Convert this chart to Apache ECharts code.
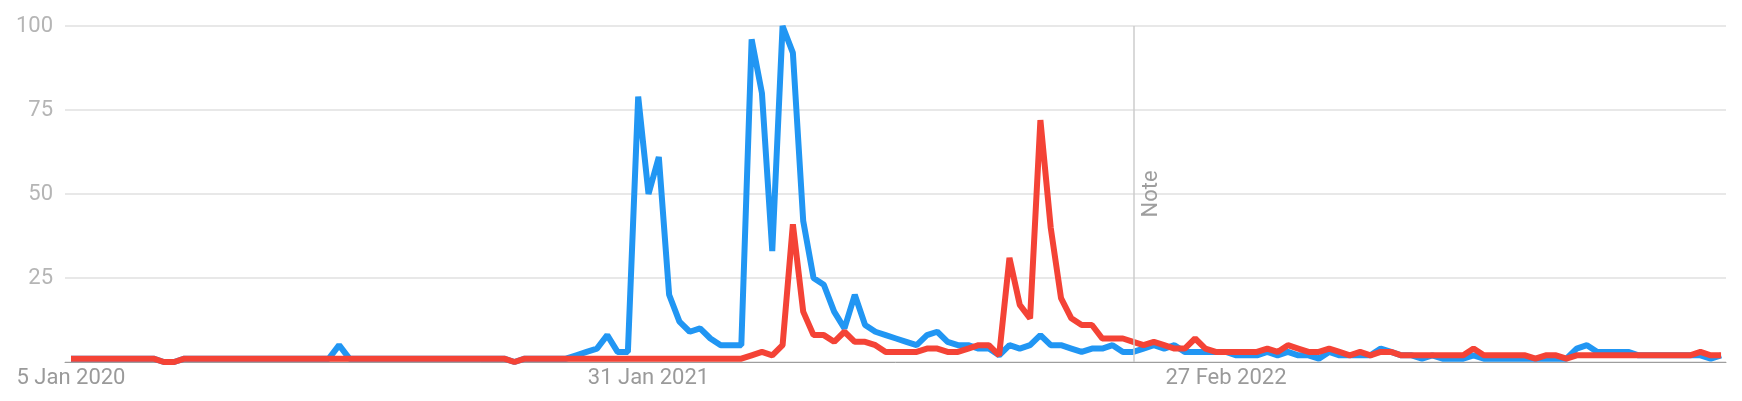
<!DOCTYPE html>
<html>
<head>
<meta charset="utf-8">
<script src="https://cdn.jsdelivr.net/npm/echarts@6/dist/echarts.min.js"></script>
<style>
html,body{margin:0;padding:0;background:#fff;}
#chart{width:1742px;height:401px;}
</style>
</head>
<body>
<div id="chart"></div>
<script>
// Weekly series, week 0 = 5 Jan 2020
const startDate = '2020-01-05';
const tickWeeks = [0, 56, 112];
const tickLabels = ['5 Jan 2020', '31 Jan 2021', '27 Feb 2022'];
const yTicks = [0, 25, 50, 75, 100];
const noteWeek = 103.1;
const noteText = 'Note';

const blueValues = [
  1,1,1,1,1,1,1,1,1,0,
  0,1,1,1,1,1,1,1,1,1,
  1,1,1,1,1,1,5,1,1,1,
  1,1,1,1,1,1,1,1,1,1,
  1,1,1,0,1,1,1,1,1,2,
  3,4,8,3,3,79,50,61,20,12,
  9,10,7,5,5,5,96,80,33,100,
  92,42,25,23,15,10,20,11,9,8,
  7,6,5,8,9,6,5,5,4,4,
  2,5,4,5,8,5,5,4,3,4,
  4,5,3,3,4,5,4,5,3,3,
  3,3,3,2,2,2,3,2,3,2,
  2,1,3,2,2,2,2,4,3,2,
  2,1,2,1,1,1,2,1,1,1,
  1,1,1,1,1,1,4,5,3,3,
  3,3,2,2,2,2,2,2,2,1,
  2
];
const redValues = [
  1,1,1,1,1,1,1,1,1,0,
  0,1,1,1,1,1,1,1,1,1,
  1,1,1,1,1,1,1,1,1,1,
  1,1,1,1,1,1,1,1,1,1,
  1,1,1,0,1,1,1,1,1,1,
  1,1,1,1,1,1,1,1,1,1,
  1,1,1,1,1,1,2,3,2,5,
  41,15,8,8,6,9,6,6,5,3,
  3,3,3,4,4,3,3,4,5,5,
  2,31,17,13,72,40,19,13,11,11,
  7,7,7,6,5,6,5,4,4,7,
  4,3,3,3,3,3,4,3,5,4,
  3,3,4,3,2,3,2,3,3,2,
  2,2,2,2,2,2,4,2,2,2,
  2,2,1,2,2,1,2,2,2,2,
  2,2,2,2,2,2,2,2,3,2,
  2
];

const toPairs = arr => arr.map((v, i) => [i, v]);
const chart = echarts.init(document.getElementById('chart'), null, {renderer: 'canvas'});
const FONT = 'Roboto, "Noto Sans", sans-serif';

chart.setOption({
  animation: false,
  backgroundColor: '#ffffff',
  grid: {left: 65, right: 16, top: 26, bottom: 39, containLabel: false},
  xAxis: {
    type: 'value',
    min: -0.58,
    max: 160.48,
    axisLine: {show: true, lineStyle: {color: '#9e9e9e', width: 1}},
    axisTick: {show: false},
    splitLine: {show: false},
    axisLabel: {
      customValues: tickWeeks,
      formatter: v => { const k = tickWeeks.indexOf(Math.round(v)); return k >= 0 ? tickLabels[k] : ''; },
      color: '#9a9a9a',
      fontFamily: FONT,
      fontSize: 22,
      margin: 5
    }
  },
  yAxis: {
    type: 'value',
    min: yTicks[0],
    max: yTicks[yTicks.length - 1],
    interval: 25,
    axisLine: {show: false},
    axisTick: {show: false},
    splitLine: {show: true, lineStyle: {color: '#e0e0e0', width: 1.5}},
    axisLabel: {
      formatter: v => v === 0 ? '' : String(v),
      color: '#b5b5b5',
      fontFamily: FONT,
      fontSize: 22,
      margin: 12
    }
  },
  series: [
    {
      name: 'blue',
      type: 'line',
      data: toPairs(blueValues),
      showSymbol: false,
      symbol: 'none',
      lineStyle: {color: '#2196F3', width: 6},
      itemStyle: {color: '#2196F3'},
      markLine: {
        silent: true,
        symbol: ['none', 'none'],
        lineStyle: {color: '#cccccc', width: 1.5, type: 'solid'},
        label: {
          show: true,
          formatter: noteText,
          position: 'insideMiddleBottom',
          color: '#9e9e9e',
          fontFamily: FONT,
          fontSize: 22,
          distance: 6
        },
        data: [{xAxis: noteWeek}]
      },
      z: 2
    },
    {
      name: 'red',
      type: 'line',
      data: toPairs(redValues),
      showSymbol: false,
      symbol: 'none',
      lineStyle: {color: '#F44336', width: 6},
      itemStyle: {color: '#F44336'},
      z: 3
    }
  ]
});
</script>
</body>
</html>
